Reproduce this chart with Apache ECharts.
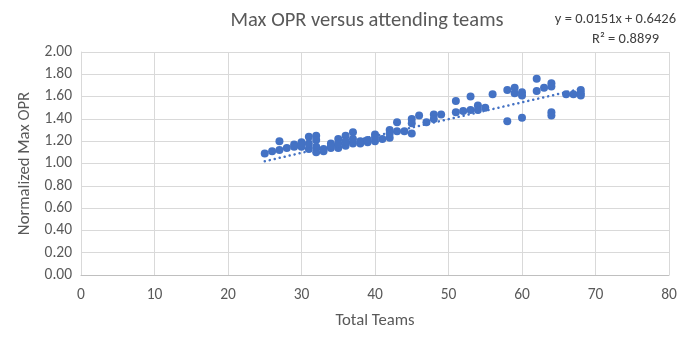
<!DOCTYPE html>
<html>
<head>
<meta charset="utf-8">
<script src="https://cdn.jsdelivr.net/npm/echarts@6/dist/echarts.min.js"></script>
<style>
  html, body { margin: 0; padding: 0; background: #fff; }
  #chart { width: 688px; height: 346px; }
</style>
</head>
<body>
<div id="chart"></div>
<script>
// Attending team count per event
const totalTeams = [
  25, 26, 27, 27, 28, 29, 29, 30, 30, 30,
  31, 31, 31, 32, 32, 32, 32, 33, 33, 34,
  34, 34, 35, 35, 35, 36, 36, 36, 37, 37,
  37, 38, 38, 39, 39, 40, 40, 40, 41, 42,
  42, 42, 43, 43, 44, 45, 45, 45, 46, 47,
  48, 48, 49, 51, 51, 52, 53, 53, 54, 54,
  55, 56, 58, 58, 59, 59, 60, 60, 60, 62,
  62, 63, 64, 64, 64, 64, 66, 67, 68, 68,
  68
];
// Normalized max OPR per event
const maxOpr = [
  1.09, 1.11, 1.20, 1.12, 1.14, 1.17, 1.15, 1.19, 1.15, 1.17,
  1.24, 1.13, 1.18, 1.25, 1.21, 1.10, 1.15, 1.11, 1.13, 1.18,
  1.14, 1.16, 1.22, 1.14, 1.18, 1.25, 1.16, 1.20, 1.28, 1.18,
  1.22, 1.18, 1.20, 1.19, 1.21, 1.26, 1.20, 1.23, 1.22, 1.30,
  1.23, 1.27, 1.37, 1.29, 1.29, 1.40, 1.36, 1.27, 1.43, 1.37,
  1.44, 1.40, 1.44, 1.56, 1.46, 1.47, 1.60, 1.48, 1.52, 1.48,
  1.50, 1.62, 1.66, 1.38, 1.68, 1.63, 1.64, 1.61, 1.41, 1.76,
  1.65, 1.68, 1.72, 1.69, 1.46, 1.43, 1.62, 1.62, 1.66, 1.63,
  1.61
];
// Linear trendline as stated in the equation label
const trendSlope = 0.0151;
const trendIntercept = 0.6426;
const trendR2 = 0.8899;
const xTicks = [0, 10, 20, 30, 40, 50, 60, 70, 80];
const yTicks = [0, 0.2, 0.4, 0.6, 0.8, 1.0, 1.2, 1.4, 1.6, 1.8, 2.0];

const points = totalTeams.map((t, i) => [t, maxOpr[i]]);
const xMin = Math.min(...totalTeams), xMax = Math.max(...totalTeams);
const trend = [xMin, xMax].map(x => [x, trendSlope * x + trendIntercept]);

const FONT = 'Calibri, Carlito, "Open Sans", "Liberation Sans", sans-serif';
const TEXT = '#595959';
const BLUE = '#4472C4';

const chart = echarts.init(document.getElementById('chart'), null, { renderer: 'canvas' });
chart.setOption({
  animation: false,
  backgroundColor: '#fff',
  textStyle: { fontFamily: FONT },
  title: [
    {
      text: 'Max OPR versus attending teams',
      left: 362, top: 5, textAlign: 'center',
      textStyle: { fontFamily: FONT, fontSize: 20.5, fontWeight: 'normal', color: TEXT }
    },
    {
      text: 'y = ' + trendSlope.toFixed(4) + 'x + ' + trendIntercept.toFixed(4),
      right: 7, top: 7,
      textStyle: { fontFamily: FONT, fontSize: 14.5, fontWeight: 'normal', color: '#404040' }
    },
    {
      text: 'R² = ' + trendR2.toFixed(4),
      right: 24, top: 27,
      textStyle: { fontFamily: FONT, fontSize: 14.5, fontWeight: 'normal', color: '#404040' }
    }
  ],
  grid: { left: 81, right: 19, top: 52, bottom: 71, containLabel: false },
  xAxis: {
    type: 'value', min: xTicks[0], max: xTicks[xTicks.length - 1], interval: 10,
    name: 'Total Teams', nameLocation: 'middle', nameGap: 37,
    nameTextStyle: { fontFamily: FONT, fontSize: 16.7, color: TEXT },
    axisLine: { show: true, lineStyle: { color: '#BFBFBF', width: 1 } },
    axisTick: { show: false },
    axisLabel: { fontFamily: FONT, fontSize: 15.5, color: TEXT, margin: 12 },
    splitLine: { show: true, lineStyle: { color: '#D9D9D9', width: 1 } }
  },
  yAxis: {
    type: 'value', min: yTicks[0], max: yTicks[yTicks.length - 1], interval: 0.2,
    name: 'Normalized Max OPR', nameLocation: 'middle', nameGap: 44, nameRotate: 90,
    nameTextStyle: { fontFamily: FONT, fontSize: 16.7, color: TEXT },
    axisLine: { show: true, lineStyle: { color: '#D9D9D9', width: 1 } },
    axisTick: { show: false },
    axisLabel: { fontFamily: FONT, fontSize: 15.5, color: TEXT, margin: 9,
      formatter: v => v.toFixed(2) },
    splitLine: { show: true, lineStyle: { color: '#D9D9D9', width: 1 } }
  },
  series: [
    {
      type: 'line', data: trend, showSymbol: false, silent: true, z: 3,
      lineStyle: { color: BLUE, width: 2.5, type: [0.1, 5], cap: 'round' }
    },
    {
      type: 'scatter', data: points, symbol: 'circle', symbolSize: 8, z: 4,
      itemStyle: { color: BLUE, opacity: 1 }
    }
  ]
});
</script>
</body>
</html>
